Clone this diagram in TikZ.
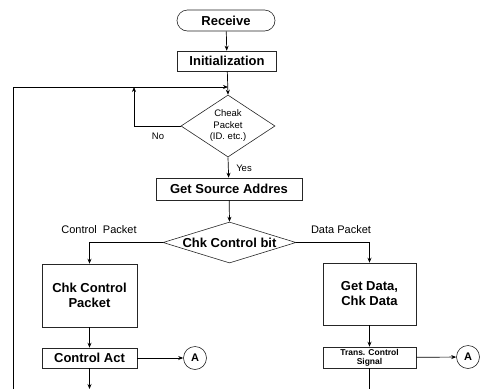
\documentclass[tikz,border=0pt]{standalone}
\usepackage{fontspec}
\setmainfont{Liberation Sans}
\usetikzlibrary{arrows.meta, positioning, shapes.misc, shapes.geometric}

\begin{document}
\begin{tikzpicture}[
  x=1pt, y=-1pt,
  term/.style = {
    rounded rectangle,
    draw=black!85, line width=0.6pt,
    font=\bfseries\fontsize{13}{15}\selectfont,
    minimum width=98pt, minimum height=21pt, inner sep=0pt
  },
  proc/.style = {
    rectangle,
    draw=black!85, line width=0.6pt,
    font=\bfseries\fontsize{13}{15}\selectfont,
    inner sep=0pt, align=center
  },
  dec/.style = {
    diamond,
    draw=black!85, line width=0.6pt,
    inner sep=0pt
  },
  conn/.style = {
    circle, draw=black!85, line width=0.6pt,
    font=\bfseries\fontsize{11}{12}\selectfont,
    minimum size=23pt, inner sep=0pt
  },
  lbl/.style  = {font=\fontsize{11}{12}\selectfont, inner sep=0pt},
  arr/.style  = {-{Stealth[length=5pt, width=4pt]}, line width=0.7pt},
  ln/.style   = {line width=0.7pt}
]
  \useasboundingbox (0,0) rectangle (496,389);

  \node[term]                                        (recv)    at (226,20.5)  {Receive};
  \node[proc, minimum width=99pt, minimum height=20pt] (init)  at (227,61)    {Initialization};
  \node[dec, minimum width=94pt, minimum height=62pt,
        label={[align=center, font=\fontsize{9.5}{11.5}\selectfont]center:Cheak\\Packet\\(ID. etc.)}]
                                                     (chkpk)   at (228,126)   {};
  \node[proc, minimum width=146pt, minimum height=22pt] (getsrc) at (229,189) {Get Source Addres};
  \node[dec, minimum width=133pt, minimum height=41pt,
        label={[font=\bfseries\fontsize{13}{15}\selectfont]center:Chk Control bit}]
                                                     (chkbit)  at (229.5,242.5) {};

  \node[proc, minimum width=95pt, minimum height=63pt] (chkctl) at (89.5,295.5) {Chk Control\\Packet};
  \node[proc, minimum width=95pt, minimum height=20pt] (ctlact) at (89.5,358)   {Control Act};
  \node[conn]                                          (toA1)   at (195,358)    {A};

  \node[proc, minimum width=93pt, minimum height=62pt] (getdat) at (369.5,294)  {Get Data,\\Chk Data};
  \node[proc, minimum width=93pt, minimum height=21pt,
        font=\bfseries\fontsize{8.5}{9}\selectfont]    (trans)  at (369.5,357.5) {Trans. Control\\Signal};
  \node[conn]                                          (toA2)   at (468,357)    {A};

  % labels
  \node[lbl, font=\fontsize{9.5}{11}\selectfont] (no)    at (158,136) {No};
  \node[lbl, font=\fontsize{9.5}{11}\selectfont] (yes)   at (244,168) {Yes};
  \node[lbl]                                     (ctlpk) at (99,230)  {Control\ \ Packet};
  \node[lbl]                                     (datpk) at (341,230) {Data Packet};

  % loop points
  \coordinate (loopin)  at (228,87);
  \coordinate (nojoin)  at (134,87);
  \coordinate (loopbot) at (13,389);
  \coordinate (actbot)  at (89.5,389);
  \coordinate (trbot)   at (369.5,389);

  \draw[arr] (recv)          -- (init);
  \draw[arr] (init)          -- (chkpk.north);
  \draw[arr] (loopbot)       |- (loopin);
  \draw[arr] (chkpk.west)    -| (nojoin);
  \draw[arr] (chkpk.south)   -- (getsrc);
  \draw[arr] (getsrc)        -- (chkbit.north);
  \draw[arr] (chkbit.west)   -| (chkctl.north);
  \draw[arr] (chkbit.east)   -| (getdat.north);
  \draw[arr] (chkctl)        -- (ctlact);
  \draw[arr] (ctlact)        -- (toA1);
  \draw[arr] (ctlact.south)  -- (actbot);
  \draw[arr] (getdat)        -- (trans);
  \draw[arr] (trans)         -- (toA2);
  \draw[ln]  (trans.south)   -- (trbot);
\end{tikzpicture}
\end{document}
